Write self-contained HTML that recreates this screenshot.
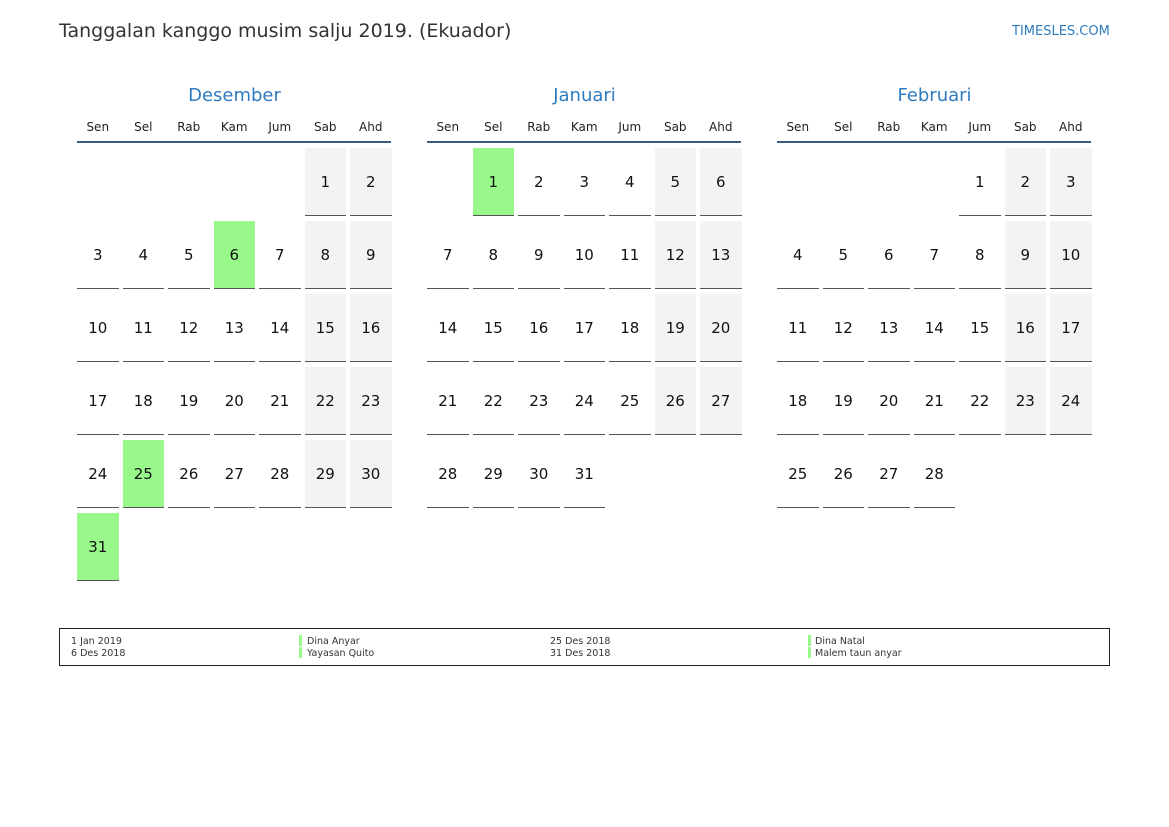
<!DOCTYPE html>
<html><head><meta charset="utf-8"><style>
body{margin:0;width:1169px;height:827px;background:#fff;position:relative;font-family:"DejaVu Sans","Liberation Sans",sans-serif;overflow:hidden}
.a{position:absolute}
.m{position:absolute;top:0;width:315px;height:600px}
.t{position:absolute;top:85px;left:0;width:315px;text-align:center;font-size:18px;color:#2f7bbf}
.h{position:absolute;top:120px;width:41.5px;text-align:center;font-size:12px;color:#222}
.ln{position:absolute;top:141px;left:0;width:314px;height:2px;background:#3d5a80}
.c{position:absolute;width:41.5px;height:67px;border-bottom:1.5px solid #555;display:flex;align-items:center;justify-content:center;font-size:15px;color:#111}
.g{background:#f3f3f3}.k{background:#98f98a}
.d0{left:0}.d1{left:45.5px}.d2{left:91px}.d3{left:136.5px}.d4{left:182px}.d5{left:227.5px}.d6{left:273px}
.r0{top:148px}.r1{top:221px}.r2{top:294px}.r3{top:367px}.r4{top:440px}.r5{top:513px}
.lg{font-size:9.5px;color:#333;position:absolute;line-height:12px}
.bar{position:absolute;width:3px;height:11px;background:#98f98a}
</style></head><body>
<div class="a" style="left:59px;top:20px;font-size:19px;color:#333">Tanggalan kanggo musim salju 2019. (Ekuador)</div>
<div class="a" style="left:1012px;top:24px;font-size:13px;color:#2f7bbf">TIMESLES.COM</div>

<div class="m" style="left:77px">
<div class="t">Desember</div>
<div class="h d0">Sen</div><div class="h d1">Sel</div><div class="h d2">Rab</div><div class="h d3">Kam</div><div class="h d4">Jum</div><div class="h d5">Sab</div><div class="h d6">Ahd</div>
<div class="ln"></div>
<div class="c r0 d5 g">1</div><div class="c r0 d6 g">2</div>
<div class="c r1 d0">3</div><div class="c r1 d1">4</div><div class="c r1 d2">5</div><div class="c r1 d3 k">6</div><div class="c r1 d4">7</div><div class="c r1 d5 g">8</div><div class="c r1 d6 g">9</div>
<div class="c r2 d0">10</div><div class="c r2 d1">11</div><div class="c r2 d2">12</div><div class="c r2 d3">13</div><div class="c r2 d4">14</div><div class="c r2 d5 g">15</div><div class="c r2 d6 g">16</div>
<div class="c r3 d0">17</div><div class="c r3 d1">18</div><div class="c r3 d2">19</div><div class="c r3 d3">20</div><div class="c r3 d4">21</div><div class="c r3 d5 g">22</div><div class="c r3 d6 g">23</div>
<div class="c r4 d0">24</div><div class="c r4 d1 k">25</div><div class="c r4 d2">26</div><div class="c r4 d3">27</div><div class="c r4 d4">28</div><div class="c r4 d5 g">29</div><div class="c r4 d6 g">30</div>
<div class="c r5 d0 k">31</div>
</div>

<div class="m" style="left:427px">
<div class="t">Januari</div>
<div class="h d0">Sen</div><div class="h d1">Sel</div><div class="h d2">Rab</div><div class="h d3">Kam</div><div class="h d4">Jum</div><div class="h d5">Sab</div><div class="h d6">Ahd</div>
<div class="ln"></div>
<div class="c r0 d1 k">1</div><div class="c r0 d2">2</div><div class="c r0 d3">3</div><div class="c r0 d4">4</div><div class="c r0 d5 g">5</div><div class="c r0 d6 g">6</div>
<div class="c r1 d0">7</div><div class="c r1 d1">8</div><div class="c r1 d2">9</div><div class="c r1 d3">10</div><div class="c r1 d4">11</div><div class="c r1 d5 g">12</div><div class="c r1 d6 g">13</div>
<div class="c r2 d0">14</div><div class="c r2 d1">15</div><div class="c r2 d2">16</div><div class="c r2 d3">17</div><div class="c r2 d4">18</div><div class="c r2 d5 g">19</div><div class="c r2 d6 g">20</div>
<div class="c r3 d0">21</div><div class="c r3 d1">22</div><div class="c r3 d2">23</div><div class="c r3 d3">24</div><div class="c r3 d4">25</div><div class="c r3 d5 g">26</div><div class="c r3 d6 g">27</div>
<div class="c r4 d0">28</div><div class="c r4 d1">29</div><div class="c r4 d2">30</div><div class="c r4 d3">31</div>
</div>

<div class="m" style="left:777px">
<div class="t">Februari</div>
<div class="h d0">Sen</div><div class="h d1">Sel</div><div class="h d2">Rab</div><div class="h d3">Kam</div><div class="h d4">Jum</div><div class="h d5">Sab</div><div class="h d6">Ahd</div>
<div class="ln"></div>
<div class="c r0 d4">1</div><div class="c r0 d5 g">2</div><div class="c r0 d6 g">3</div>
<div class="c r1 d0">4</div><div class="c r1 d1">5</div><div class="c r1 d2">6</div><div class="c r1 d3">7</div><div class="c r1 d4">8</div><div class="c r1 d5 g">9</div><div class="c r1 d6 g">10</div>
<div class="c r2 d0">11</div><div class="c r2 d1">12</div><div class="c r2 d2">13</div><div class="c r2 d3">14</div><div class="c r2 d4">15</div><div class="c r2 d5 g">16</div><div class="c r2 d6 g">17</div>
<div class="c r3 d0">18</div><div class="c r3 d1">19</div><div class="c r3 d2">20</div><div class="c r3 d3">21</div><div class="c r3 d4">22</div><div class="c r3 d5 g">23</div><div class="c r3 d6 g">24</div>
<div class="c r4 d0">25</div><div class="c r4 d1">26</div><div class="c r4 d2">27</div><div class="c r4 d3">28</div>
</div>

<div class="a" style="left:59px;top:628px;width:1049px;height:36px;border:1.5px solid #222"></div>
<div class="lg" style="left:71px;top:636px">1 Jan 2019<br>6 Des 2018</div>
<div class="bar" style="left:299px;top:635px"></div><div class="bar" style="left:299px;top:647px"></div>
<div class="lg" style="left:307px;top:636px">Dina Anyar<br>Yayasan Quito</div>
<div class="lg" style="left:550px;top:636px">25 Des 2018<br>31 Des 2018</div>
<div class="bar" style="left:808px;top:635px"></div><div class="bar" style="left:808px;top:647px"></div>
<div class="lg" style="left:815px;top:636px">Dina Natal<br>Malem taun anyar</div>
</body></html>
